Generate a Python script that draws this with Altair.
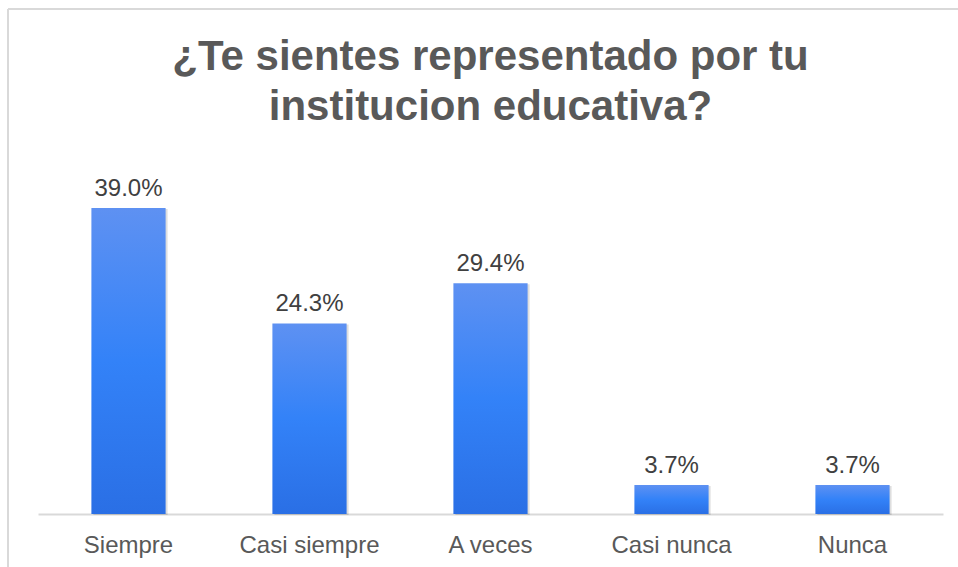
import altair as alt
import pandas as pd

# Survey answers and their shares (%)
categories = ["Siempre", "Casi siempre", "A veces", "Casi nunca", "Nunca"]
shares = [39.0, 24.3, 29.4, 3.7, 3.7]
share_labels = ["39.0%", "24.3%", "29.4%", "3.7%", "3.7%"]
title_lines = ["¿Te sientes representado por tu", "institucion educativa?"]

df = pd.DataFrame({"cat": categories, "pct": shares, "label": share_labels})

FONT = "Liberation Sans, Arial, Helvetica, sans-serif"
PAD_L, PAD_T = 38, 161
PLOT_W, PLOT_H = 905, 353

x_enc = alt.X(
    "cat:N",
    sort=categories,
    title=None,
    scale=alt.Scale(paddingInner=0.59, paddingOuter=0.295),
    axis=alt.Axis(
        labelAngle=0,
        labelFontSize=24,
        labelColor="#595959",
        labelFont=FONT,
        labelPadding=19,
        ticks=False,
        domainColor="#d9d9d9",
        domainWidth=2,
        grid=False,
    ),
)
y_enc = alt.Y("pct:Q", scale=alt.Scale(domain=[0, 45], nice=False), axis=None)

base = alt.Chart(df)

gradient = alt.Gradient(
    gradient="linear",
    stops=[
        alt.GradientStop(color="#5E91F2", offset=0),
        alt.GradientStop(color="#3382F8", offset=0.5),
        alt.GradientStop(color="#2A6FE5", offset=1),
    ],
    x1=0, x2=0, y1=0, y2=1,
)

shadow = base.mark_bar(color="#000000", opacity=0.13, xOffset=2, yOffset=1).encode(
    x=x_enc, y=y_enc
)
bars = base.mark_bar(color=gradient).encode(x=x_enc, y=y_enc)
labels = base.mark_text(
    baseline="alphabetic", dy=-12, fontSize=24, font=FONT, color="#404040"
).encode(x=x_enc, y=y_enc, text="label:N")

single = pd.DataFrame({"k": [0]})

# Outer chart frame (top and left edges)
frame_top = alt.Chart(single).mark_rule(color="#d9d9d9", strokeWidth=2).encode(
    x=alt.value(8 - PAD_L), x2=alt.value(958 - PAD_L), y=alt.value(9 - PAD_T)
)
frame_left = alt.Chart(single).mark_rule(color="#d9d9d9", strokeWidth=2).encode(
    x=alt.value(8 - PAD_L), y=alt.value(9 - PAD_T), y2=alt.value(567 - PAD_T)
)

# Two-line bold heading centred over the plot
heading = alt.Chart(single).mark_text(
    fontSize=42,
    font=FONT,
    fontWeight="bold",
    color="#595959",
    align="center",
    baseline="alphabetic",
    lineHeight=50,
).encode(
    x=alt.value(PLOT_W / 2),
    y=alt.value(70 - PAD_T),
    text=alt.value(title_lines),
)

chart = (
    alt.layer(frame_top, frame_left, heading, shadow, bars, labels)
    .properties(
        width=PLOT_W,
        height=PLOT_H,
        autosize=alt.AutoSizeParams(type="none"),
        padding={"left": PAD_L, "top": PAD_T, "right": 15, "bottom": 53},
    )
    .configure(background="white")
    .configure_view(strokeWidth=0)
)

chart.save("out.html", embed_options={"renderer": "svg", "actions": False})
